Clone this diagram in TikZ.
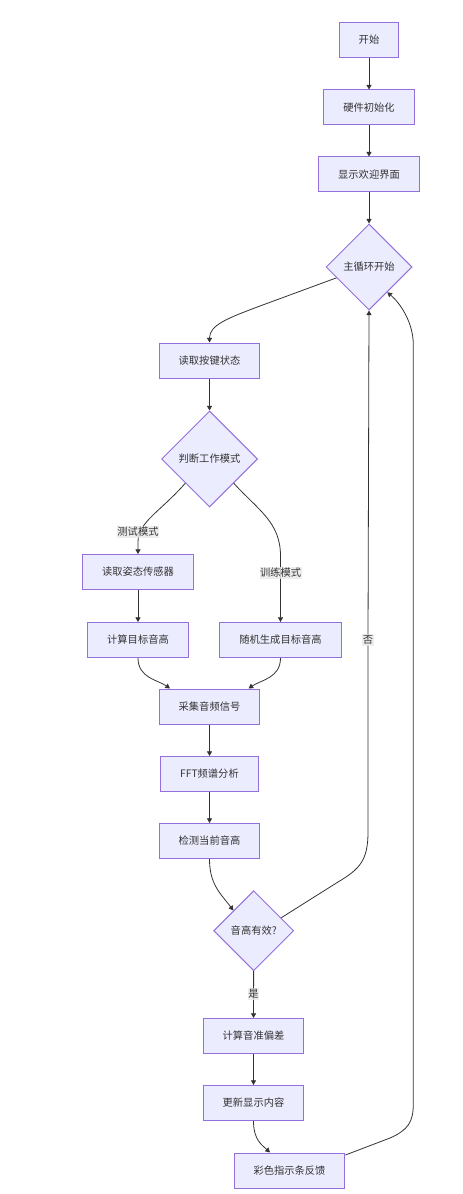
\documentclass[tikz,border=0pt]{standalone}
\usepackage{fontspec}
\setmainfont{Noto Sans CJK SC}
\usetikzlibrary{shapes.geometric,arrows.meta,calc}
\definecolor{nfill}{HTML}{ECECFF}
\definecolor{nstroke}{HTML}{9370DB}
\definecolor{ecol}{HTML}{333333}
\definecolor{lblbg}{HTML}{E8E8E8}
\begin{document}
\begin{tikzpicture}[x=0.75pt,y=-0.75pt,
 font=\fontsize{7.7}{9}\selectfont, text=ecol,
 box/.style={draw=nstroke,fill=nfill,line width=0.75pt,rectangle,inner xsep=14.6pt,inner ysep=0pt,minimum height=26.25pt},
 dia/.style={draw=nstroke,fill=nfill,line width=0.75pt,diamond,aspect=1,inner sep=0pt},
 arr/.style={draw=ecol,line width=0.6pt,-{Triangle[length=3.5pt,width=3.8pt]}},
 lbl/.style={fill=lblbg,fill opacity=0.8,text opacity=1,inner xsep=0.5pt,inner ysep=1pt}]
\useasboundingbox (0,0) rectangle (462,1194);

\node[box] (start) at (369,40) {开始};
\node[box] (hw) at (369,107.5) {硬件初始化};
\node[box] (welcome) at (369,174.5) {显示欢迎界面};
\node[dia,minimum width=64.5pt,minimum height=64.5pt] (main) at (369,267) {主循环开始};
\node[box] (key) at (209.5,360.5) {读取按键状态};
\node[dia,minimum width=72pt,minimum height=72pt] (mode) at (209.5,459) {判断工作模式};
\node[box] (imu) at (138,572) {读取姿态传感器};
\node[box] (calc) at (138,640) {计算目标音高};
\node[box] (rand) at (280.5,640) {随机生成目标音高};
\node[box] (acq) at (209.5,706.5) {采集音频信号};
\node[box] (fft) at (209.5,774) {FFT频谱分析};
\node[box] (det) at (209.5,841) {检测当前音高};
\node[dia,minimum width=60pt,minimum height=60pt] (valid) at (253.7,930.7) {音高有效?};
\node[box] (dev) at (253.5,1036) {计算音准偏差};
\node[box] (upd) at (253.5,1103) {更新显示内容};
\node[box] (fb) at (289.5,1170.5) {彩色指示条反馈};

\draw[arr] (start) -- (hw);
\draw[arr] (hw) -- (welcome);
\draw[arr] (welcome) -- (main);
\draw[arr] ($(main.west)!0.25!(main.south)$) -- (260,306) .. controls (228,318) and (209.5,325) .. (key.north);
\draw[arr] (key) -- (mode);
\draw[arr] ($(mode.west)!0.5!(mode.south)$) .. controls (160,512) and (138,522) .. (138,542) -- (imu.north);
\draw[arr] ($(mode.east)!0.5!(mode.south)$) .. controls (258,510) and (280.5,522) .. (280.5,556) -- (rand.north);
\draw[arr] (imu) -- (calc);
\draw[arr] (calc.south) .. controls (138,678) and (158,680) .. ($(acq.north)+(-39.5,0)$);
\draw[arr] (rand.south) .. controls (280.5,678) and (261,680) .. ($(acq.north)+(39,0)$);
\draw[arr] (acq) -- (fft);
\draw[arr] (fft) -- (det);
\draw[arr] (det.south) .. controls (209.5,884) and (220,893) .. ($(valid.north)!0.5!(valid.west)$);
\draw[arr] ($(valid.north)!0.68!(valid.east)$) -- (338,882) .. controls (360,869) and (368,860) .. (368,832) -- (368,640) -- (main.south);
\draw[arr] (valid) -- (dev);
\draw[arr] (dev) -- (upd);
\draw[arr] (upd.south) .. controls (253.5,1140) and (262,1145) .. ($(fb.north)+(-19.5,0)$);
\draw[arr] ($(fb.north east)+(0,2.5)$) -- (390,1138) .. controls (408,1130) and (413.3,1122) .. (413.3,1104) -- (413.3,345) .. controls (413.3,322) and (400,303) .. ($(main.east)!0.58!(main.south)$);

\node[lbl] (l1) at (138,532) {测试模式};
\node[lbl] (l2) at (280.7,572.7) {训练模式};
\node[lbl] (l3) at (368,640) {否};
\node[lbl] (l4) at (253.5,994.3) {是};
\end{tikzpicture}
\end{document}
